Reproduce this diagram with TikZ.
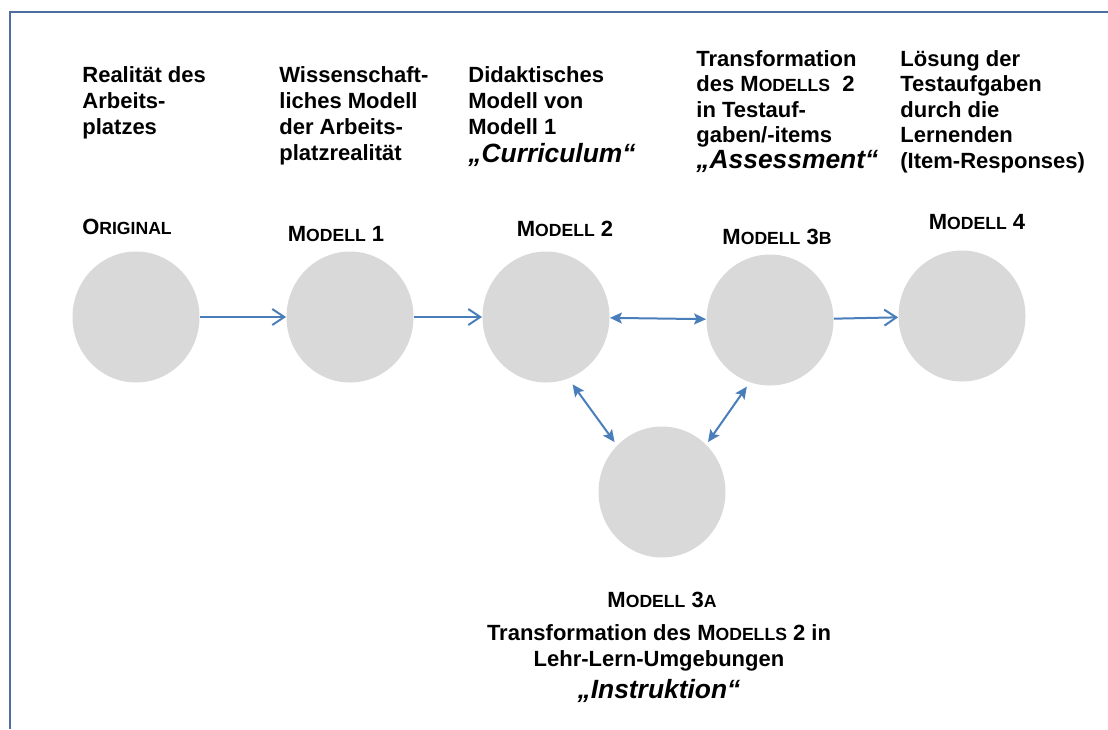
\documentclass[tikz,border=0pt]{standalone}
\usepackage{fontspec}
\setmainfont{Liberation Sans}
\usetikzlibrary{shapes.geometric,arrows.meta}
\definecolor{kreisgrau}{HTML}{D9D9D9}
\definecolor{pfeilblau}{HTML}{4A7EBB}
\definecolor{rahmenblau}{HTML}{4E6EA2}
\newcommand\kap[1]{{\fontsize{.8em}{1em}\selectfont#1}}
\newcommand\kursiv{\fontsize{13.2}{15}\selectfont\itshape}
\begin{document}
\begin{tikzpicture}[x=0.5pt,y=-0.5pt,
    kreis/.style={ellipse,fill=kreisgrau,minimum width=63.5pt,minimum height=65.5pt,inner sep=0pt},
    titel/.style={anchor=base,inner sep=0pt,font=\fontsize{11}{13}\selectfont\bfseries},
    spalte/.style={anchor=north west,align=left,inner sep=0pt,font=\fontsize{11}{13}\selectfont\bfseries},
    eng/.style={font=\fontsize{11}{12.75}\selectfont\bfseries},
    unten/.style={anchor=north,align=center,inner sep=0pt,font=\fontsize{11}{13}\selectfont\bfseries},
    pfeil/.style={draw=pfeilblau,line width=1pt,-{Straight Barb[length=6pt,width=8pt]}},
    doppel/.style={draw=pfeilblau,line width=1pt,{Stealth[length=6pt,width=5.5pt,inset=1.2pt]}-{Stealth[length=6pt,width=5.5pt,inset=1.2pt]}},
    rahmen/.style={draw=rahmenblau,line width=1.3pt}]
  \useasboundingbox (0,0) rectangle (1108,729);
  \draw[rahmen] (10,729) -- (10,12) -- (1108,12);

  \node[kreis] (0) at (136,317) {};
  \node[kreis] (1) at (350,317) {};
  \node[kreis] (2) at (546,317) {};
  \node[kreis] (3b) at (770,320) {};
  \node[kreis] (4) at (962,316) {};
  \node[kreis] (3a) at (662,492) {};

  \node[titel] (l0) at (127,234) {O\kap{RIGINAL}};
  \node[titel] (l1) at (336,241) {M\kap{ODELL} 1};
  \node[titel] (l2) at (565,236) {M\kap{ODELL} 2};
  \node[titel] (l3b) at (777,244) {M\kap{ODELL} 3\kap{B}};
  \node[titel] (l4) at (977,229) {M\kap{ODELL} 4};
  \node[titel] (l3a) at (662,607) {M\kap{ODELL} 3\kap{A}};

  \node[spalte] (t0) at (82,66) {Realität des\\Arbeits-\\platzes};
  \node[spalte] (t1) at (279,66) {Wissenschaft-\\liches Modell\\der Arbeits-\\platzrealität};
  \node[spalte] (t2) at (468,66) {Didaktisches\\Modell von\\Modell 1\\[1pt]{\kursiv „Curriculum“}};
  \node[spalte,eng] (t3b) at (696,50) {Transformation\\des M\kap{ODELLS}~~2\\in Testauf-\\gaben/-items\\{\kursiv „Assessment“}};
  \node[spalte,eng] (t4) at (900,50) {Lösung der\\Testaufgaben\\durch die\\Lernenden\\(Item-Responses)};
  \node[unten] (t3a) at (659,624) {Transformation des M\kap{ODELLS} 2 in\\Lehr-Lern-Umgebungen\\[3pt]{\kursiv „Instruktion“}};

  \draw[pfeil] (0) -- (1);
  \draw[pfeil] (1) -- (2);
  \draw[doppel] (2) -- (3b);
  \draw[pfeil] (3b) -- (4);
  \draw[doppel,shorten <=3.5pt,shorten >=2pt] (2.-70) -- (3a.134);
  \draw[doppel,shorten <=2.5pt,shorten >=1.5pt] (3b.-108) -- (3a.47);
\end{tikzpicture}
\end{document}
